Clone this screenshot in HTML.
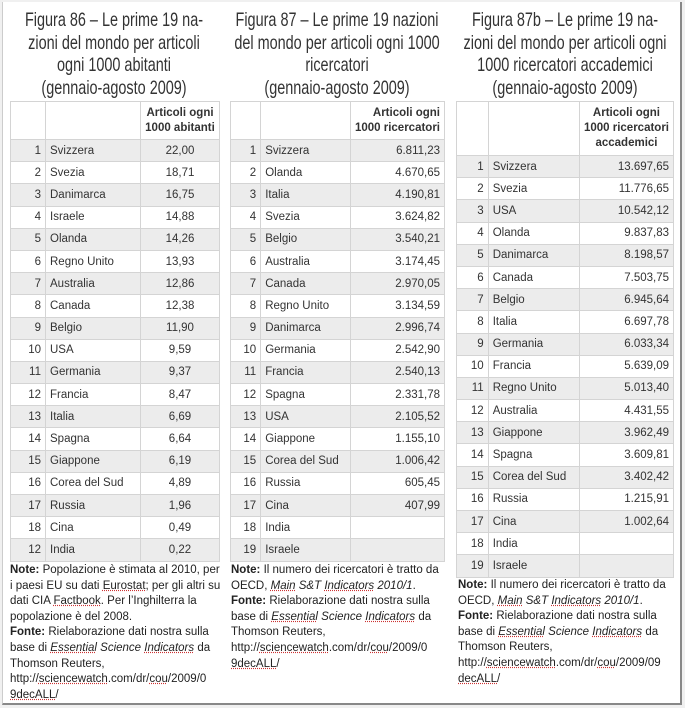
<!DOCTYPE html>
<html><head><meta charset="utf-8"><style>
html,body{margin:0;padding:0;background:#f0f0f0;}
#frame{position:absolute;left:2px;top:2px;width:677px;height:701px;background:#fff;border-right:2px solid #888;border-bottom:2px solid #888;border-left:1px solid #ccc;}
.title{position:absolute;top:9px;text-align:center;font-family:"Liberation Sans",sans-serif;font-size:19.5px;line-height:22.5px;color:#333;white-space:nowrap;transform:scaleX(0.74);transform-origin:center top;}
table{position:absolute;border-collapse:collapse;font-family:"Liberation Sans",sans-serif;font-size:11.5px;color:#333;}
td{border:1px solid #d4d4d4;padding:0 4px;height:21.2px;white-space:nowrap;}
tr:nth-child(even) td{background:#ececec;}
tr:first-child td{background:#fff;font-weight:bold;text-align:center;line-height:15px;}
td.n{text-align:right;}
td.v{text-align:right;}
.note{position:absolute;font-family:"Liberation Sans",sans-serif;font-size:11.5px;line-height:15.6px;color:#222;}
.u{text-decoration:underline dotted #c33;}
</style></head><body>
<div id="frame"></div>
<div class="title" style="left:-36px;width:300px">Figura 86 – Le prime 19 na-<br>zioni del mondo per articoli<br>ogni 1000 abitanti<br>(gennaio-agosto 2009)</div>
<div class="title" style="left:187px;width:300px">Figura 87 – Le prime 19 nazioni<br>del mondo per articoli ogni 1000<br>ricercatori<br>(gennaio-agosto 2009)</div>
<div class="title" style="left:415px;width:300px">Figura 87b – Le prime 19 na-<br>zioni del mondo per articoli ogni<br>1000 ricercatori accademici<br>(gennaio-agosto 2009)</div>

<table style="left:10px;top:101px;width:210px">
<tr><td style="width:26px;height:37px"></td><td style="width:86px"></td><td>Articoli ogni<br>1000 abitanti</td></tr>
<tr><td class="n">1</td><td>Svizzera</td><td style="text-align:center">22,00</td></tr>
<tr><td class="n">2</td><td>Svezia</td><td style="text-align:center">18,71</td></tr>
<tr><td class="n">3</td><td>Danimarca</td><td style="text-align:center">16,75</td></tr>
<tr><td class="n">4</td><td>Israele</td><td style="text-align:center">14,88</td></tr>
<tr><td class="n">5</td><td>Olanda</td><td style="text-align:center">14,26</td></tr>
<tr><td class="n">6</td><td>Regno Unito</td><td style="text-align:center">13,93</td></tr>
<tr><td class="n">7</td><td>Australia</td><td style="text-align:center">12,86</td></tr>
<tr><td class="n">8</td><td>Canada</td><td style="text-align:center">12,38</td></tr>
<tr><td class="n">9</td><td>Belgio</td><td style="text-align:center">11,90</td></tr>
<tr><td class="n">10</td><td>USA</td><td style="text-align:center">9,59</td></tr>
<tr><td class="n">11</td><td>Germania</td><td style="text-align:center">9,37</td></tr>
<tr><td class="n">12</td><td>Francia</td><td style="text-align:center">8,47</td></tr>
<tr><td class="n">13</td><td>Italia</td><td style="text-align:center">6,69</td></tr>
<tr><td class="n">14</td><td>Spagna</td><td style="text-align:center">6,64</td></tr>
<tr><td class="n">15</td><td>Giappone</td><td style="text-align:center">6,19</td></tr>
<tr><td class="n">16</td><td>Corea del Sud</td><td style="text-align:center">4,89</td></tr>
<tr><td class="n">17</td><td>Russia</td><td style="text-align:center">1,96</td></tr>
<tr><td class="n">18</td><td>Cina</td><td style="text-align:center">0,49</td></tr>
<tr><td class="n">12</td><td>India</td><td style="text-align:center">0,22</td></tr>
</table>

<table style="left:230px;top:101px;width:215px">
<tr><td style="width:25px;height:37px"></td><td style="width:84px"></td><td style="text-align:right">Articoli ogni<br>1000 ricercatori</td></tr>
<tr><td class="n">1</td><td>Svizzera</td><td class="v">6.811,23</td></tr>
<tr><td class="n">2</td><td>Olanda</td><td class="v">4.670,65</td></tr>
<tr><td class="n">3</td><td>Italia</td><td class="v">4.190,81</td></tr>
<tr><td class="n">4</td><td>Svezia</td><td class="v">3.624,82</td></tr>
<tr><td class="n">5</td><td>Belgio</td><td class="v">3.540,21</td></tr>
<tr><td class="n">6</td><td>Australia</td><td class="v">3.174,45</td></tr>
<tr><td class="n">7</td><td>Canada</td><td class="v">2.970,05</td></tr>
<tr><td class="n">8</td><td>Regno Unito</td><td class="v">3.134,59</td></tr>
<tr><td class="n">9</td><td>Danimarca</td><td class="v">2.996,74</td></tr>
<tr><td class="n">10</td><td>Germania</td><td class="v">2.542,90</td></tr>
<tr><td class="n">11</td><td>Francia</td><td class="v">2.540,13</td></tr>
<tr><td class="n">12</td><td>Spagna</td><td class="v">2.331,78</td></tr>
<tr><td class="n">13</td><td>USA</td><td class="v">2.105,52</td></tr>
<tr><td class="n">14</td><td>Giappone</td><td class="v">1.155,10</td></tr>
<tr><td class="n">15</td><td>Corea del Sud</td><td class="v">1.006,42</td></tr>
<tr><td class="n">16</td><td>Russia</td><td class="v">605,45</td></tr>
<tr><td class="n">17</td><td>Cina</td><td class="v">407,99</td></tr>
<tr><td class="n">18</td><td>India</td><td class="v"></td></tr>
<tr><td class="n">19</td><td>Israele</td><td class="v"></td></tr>
</table>

<table style="left:456px;top:101px;width:218px">
<tr><td style="width:27px;height:53px"></td><td style="width:86px"></td><td>Articoli ogni<br>1000 ricercatori<br>accademici</td></tr>
<tr><td class="n">1</td><td>Svizzera</td><td class="v">13.697,65</td></tr>
<tr><td class="n">2</td><td>Svezia</td><td class="v">11.776,65</td></tr>
<tr><td class="n">3</td><td>USA</td><td class="v">10.542,12</td></tr>
<tr><td class="n">4</td><td>Olanda</td><td class="v">9.837,83</td></tr>
<tr><td class="n">5</td><td>Danimarca</td><td class="v">8.198,57</td></tr>
<tr><td class="n">6</td><td>Canada</td><td class="v">7.503,75</td></tr>
<tr><td class="n">7</td><td>Belgio</td><td class="v">6.945,64</td></tr>
<tr><td class="n">8</td><td>Italia</td><td class="v">6.697,78</td></tr>
<tr><td class="n">9</td><td>Germania</td><td class="v">6.033,34</td></tr>
<tr><td class="n">10</td><td>Francia</td><td class="v">5.639,09</td></tr>
<tr><td class="n">11</td><td>Regno Unito</td><td class="v">5.013,40</td></tr>
<tr><td class="n">12</td><td>Australia</td><td class="v">4.431,55</td></tr>
<tr><td class="n">13</td><td>Giappone</td><td class="v">3.962,49</td></tr>
<tr><td class="n">14</td><td>Spagna</td><td class="v">3.609,81</td></tr>
<tr><td class="n">15</td><td>Corea del Sud</td><td class="v">3.402,42</td></tr>
<tr><td class="n">16</td><td>Russia</td><td class="v">1.215,91</td></tr>
<tr><td class="n">17</td><td>Cina</td><td class="v">1.002,64</td></tr>
<tr><td class="n">18</td><td>India</td><td class="v"></td></tr>
<tr><td class="n">19</td><td>Israele</td><td class="v"></td></tr>
</table>

<div class="note" style="left:10px;top:563px;width:214px"><b>Note:</b> Popolazione è stimata al 2010, per i paesi EU su dati <span class="u">Eurostat</span>; per gli altri su dati CIA <span class="u">Factbook</span>. Per l’Inghilterra la popolazione è del 2008.<br><b>Fonte:</b> Rielaborazione dati nostra sulla base di <i><span class="u">Essential</span> Science <span class="u">Indicators</span></i> da Thomson Reuters,<br>http://<span class="u">sciencewatch</span>.com/dr/<span class="u">cou</span>/2009/0<br><span class="u">9decALL</span>/</div>
<div class="note" style="left:231px;top:563px;width:214px"><b>Note:</b> Il numero dei ricercatori è tratto da OECD, <i><span class="u">Main</span> S&amp;T <span class="u">Indicators</span> 2010/1</i>.<br><b>Fonte:</b> Rielaborazione dati nostra sulla base di <i><span class="u">Essential</span> Science <span class="u">Indicators</span></i> da Thomson Reuters,<br>http://<span class="u">sciencewatch</span>.com/dr/<span class="u">cou</span>/2009/0<br><span class="u">9decALL</span>/</div>
<div class="note" style="left:458px;top:578px;width:220px"><b>Note:</b> Il numero dei ricercatori è tratto da OECD, <i><span class="u">Main</span> S&amp;T <span class="u">Indicators</span> 2010/1</i>.<br><b>Fonte:</b> Rielaborazione dati nostra sulla base di <i><span class="u">Essential</span> Science <span class="u">Indicators</span></i> da Thomson Reuters,<br>http://<span class="u">sciencewatch</span>.com/dr/<span class="u">cou</span>/2009/09<br><span class="u">decALL</span>/</div>
</body></html>
